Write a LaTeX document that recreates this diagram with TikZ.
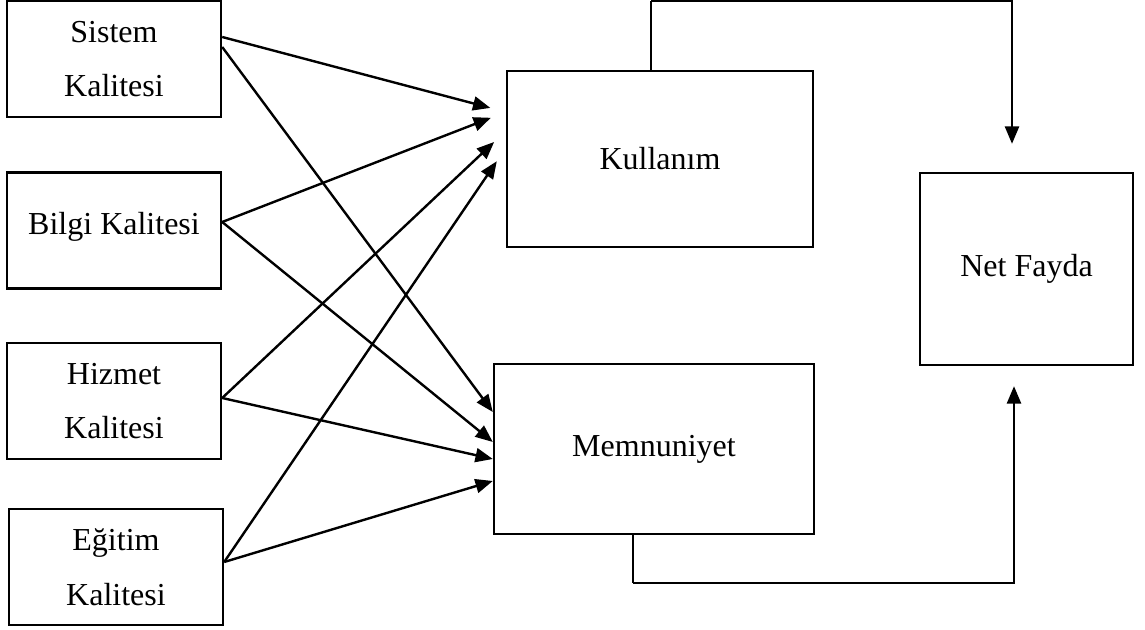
\documentclass[tikz,border=0pt]{standalone}
\usepackage{fontspec}
\setmainfont{Liberation Serif}
\usetikzlibrary{arrows.meta}

\begin{document}
\begin{tikzpicture}[x=0.75pt,y=0.75pt,yscale=-1,xscale=1,
  box/.style={draw,line width=1.8pt,align=center,inner sep=0pt,font=\fontsize{24}{41}\selectfont},
  arr/.style={line width=1.8pt,-{Triangle[length=13pt,width=10.5pt]}},
  thinline/.style={line width=0.9pt}]
\useasboundingbox (0,0) rectangle (1145,630);

% left column
\node [box,minimum width=160.5pt,minimum height=87pt] (sis) at (114,59) {Sistem\\Kalitesi};
\node [box,minimum width=160.5pt,minimum height=87pt] (bil) at (114,230.5) {Bilgi Kalitesi\\[-30pt]};
\node [box,minimum width=160.5pt,minimum height=87pt] (hiz) at (114,401) {Hizmet\\Kalitesi};
\node [box,minimum width=160.5pt,minimum height=87pt] (egi) at (116,567) {Eğitim\\Kalitesi};

% middle and right
\node [box,minimum width=229.5pt,minimum height=132pt] (kul) at (660,159) {Kullanım};
\node [box,minimum width=240pt,minimum height=127.5pt] (mem) at (654,449) {Memnuniyet};
\node [box,minimum width=160pt,minimum height=144pt] (net) at (1026.5,269) {Net Fayda};

% arrows into Kullanim
\draw [arr,shorten >=12pt] (sis.east |- 0,37) -- (kul.west |- 0,112);
\draw [arr,shorten >=12pt] (bil.east |- 0,222) -- (kul.west |- 0,112);
\draw [arr,shorten >=12pt] (hiz.east |- 0,398) -- (kul.west |- 0,131);
\draw [arr,shorten >=12pt] (egi.east |- 0,562) -- (kul.west |- 0,148);

% arrows into Memnuniyet
\draw [arr] (sis.east |- 0,47) -- (mem.west |- 0,412);
\draw [arr] (bil.east |- 0,222) -- (mem.west |- 0,442);
\draw [arr] (hiz.east |- 0,398) -- (mem.west |- 0,459);
\draw [arr] (egi.east |- 0,562) -- (mem.west |- 0,481);

% to Net Fayda
\coordinate (k1) at (651,1);
\coordinate (m1) at (633,583);
\draw [thinline] (kul.north -| k1) -- (k1);
\draw [arr,shorten >=21pt] (k1) -| (net.north -| 1012,0);
\draw [thinline] (mem.south -| m1) -- (m1);
\draw [arr,shorten >=15pt] (m1) -| (net.south -| 1014,0);

\end{tikzpicture}
\end{document}
